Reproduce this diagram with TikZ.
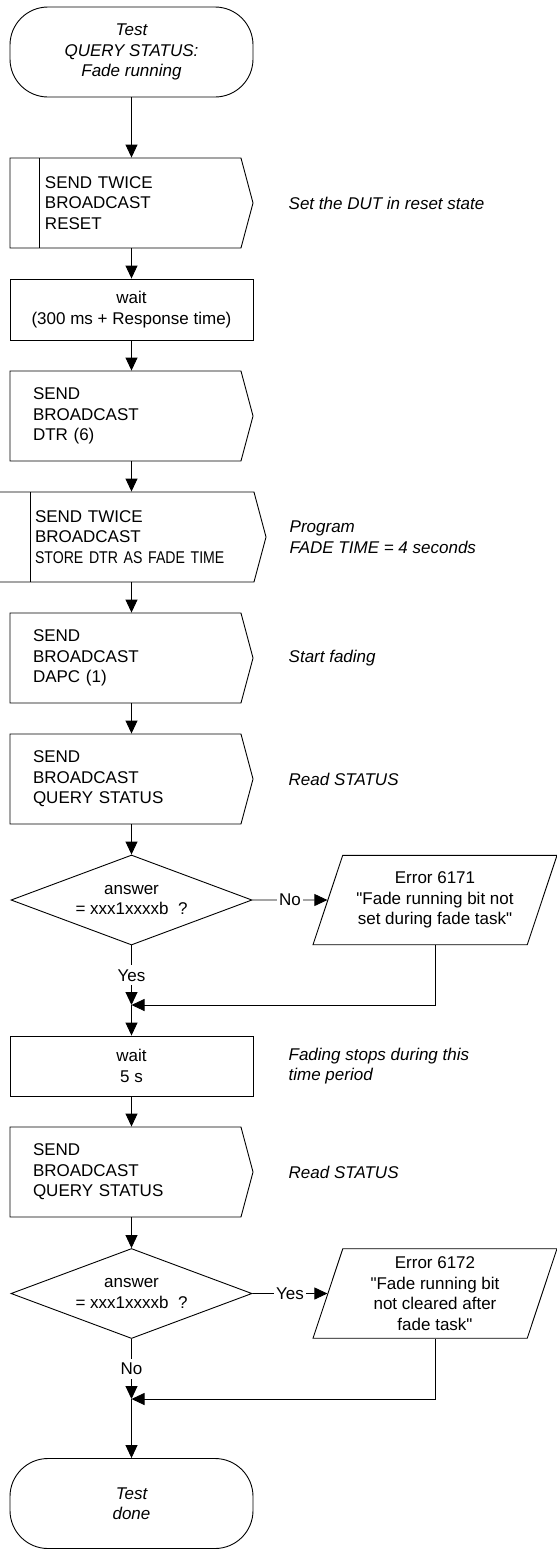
\documentclass[tikz,border=0pt]{standalone}
\usepackage{fontspec}
\setmainfont{Liberation Sans}
\newfontfamily\narrowfont{Liberation Sans}[FakeStretch=0.83]
\usepackage{tikz}
\usetikzlibrary{arrows.meta,positioning,shapes.geometric,shapes.symbols}
\tikzset{
  terminal/.style={
    rounded corners=38pt,draw=black,fill=white,
    line width=.9pt,minimum width=243pt,minimum height=90pt,
    align=center,font=\fontsize{17}{20.5}\selectfont\itshape
  },
  waitbox/.style={
    draw=black,fill=white,line width=.9pt,
    minimum width=243pt,minimum height=61pt,
    align=center,font=\fontsize{17}{20.5}\selectfont
  },
  sendbox/.style={
    shape=signal,signal to=east,signal pointer angle=150,
    draw=black,fill=white,line width=.9pt,
    minimum width=243pt,minimum height=90pt,
    text width=185pt,align=left,font=\fontsize{17}{20.5}\selectfont
  },
  twicebox/.style={
    sendbox,path picture={
      \draw[line width=.9pt] ([xshift=#1]path picture bounding box.north west)
        --([xshift=#1]path picture bounding box.south west);}
  },
  decision/.style={
    diamond,shape aspect=2.68,draw=black,fill=white,line width=.9pt,
    minimum width=241pt,minimum height=90pt,inner sep=0pt,
    align=center,font=\fontsize{17}{20.5}\selectfont
  },
  errorbox/.style={
    trapezium,trapezium left angle=71.6,trapezium right angle=108.4,
    trapezium stretches body=true,draw=black,fill=white,line width=.9pt,
    minimum width=244pt,inner ysep=#1,
    align=center,font=\fontsize{17}{20.5}\selectfont
  },
  note/.style={inner sep=0pt,align=left,font=\fontsize{17}{20.5}\selectfont\itshape},
  answer/.style={fill=white,inner xsep=2pt,inner ysep=4pt,font=\fontsize{17}{20.5}\selectfont},
  arrow/.style={-{Triangle[length=13pt,width=12pt]},draw=black,line width=.9pt}
}
\begin{document}
\begin{tikzpicture}[x=1pt,y=1pt,node distance=35pt]
\useasboundingbox (0,0) rectangle (557,-1551);
\coordinate (axis) at (131.5,0);
\node[terminal] (start) at (131.5,-52) {Test\\QUERY STATUS:\\Fade running};
\node[twicebox=29pt,text width=161pt] (reset) at (125.5,-203) {SEND TWICE\\BROADCAST\\RESET};
\node[waitbox] (wait1) at (131.5,-309.5) {wait\\(300 ms + Response time)};
\node[sendbox] (dtr) at (125.5,-416) {SEND\\BROADCAST\\DTR (6)};
\node[twicebox=32pt,minimum width=268pt,text width=182pt] (fadetime) at (126,-537) {SEND TWICE\\BROADCAST\\{\narrowfont\mbox{STORE DTR AS FADE TIME}}};
\node[sendbox] (dapc) at (125.5,-658) {SEND\\BROADCAST\\DAPC (1)};
\node[sendbox] (query1) at (125.5,-779) {SEND\\BROADCAST\\QUERY STATUS};
\node[decision] (check1) at (131.5,-900) {answer\\= xxx1xxxxb\ \ ?};
\node[errorbox=16.5pt] (error1) at ([xshift=303.5pt]check1) {Error 6171\\\textquotedbl Fade running bit not\\set during fade task\textquotedbl};
\coordinate (join1) at (131.5,-1005);
\node[waitbox,minimum height=60pt] (wait2) at (131.5,-1066) {wait\\5 s};
\node[sendbox] (query2) at (125.5,-1172) {SEND\\BROADCAST\\QUERY STATUS};
\node[decision] (check2) at (131.5,-1293.5) {answer\\= xxx1xxxxb\ \ ?};
\node[errorbox=8pt] (error2) at ([xshift=303.5pt]check2) {Error 6172\\\textquotedbl Fade running bit\\not cleared after\\fade task\textquotedbl};
\coordinate (join2) at (131.5,-1399);
\node[terminal] (done) at (131.5,-1503.5) {Test\\done};
\node[note,right=of reset] (resetnote) {Set the DUT in reset state};
\node[note,right=23pt of fadetime] (fadenote) {Program\\FADE TIME = 4 seconds};
\node[note,right=of dapc] (dapcnote) {Start fading};
\node[note,right=of query1] (query1note) {Read STATUS};
\node[note,right=of wait2] (wait2note) {Fading stops during this\\time period};
\node[note,right=of query2] (query2note) {Read STATUS};
\draw[arrow] (start)--(axis|-reset.north);
\draw[arrow] (axis|-reset.south)--(wait1);
\draw[arrow] (wait1)--(axis|-dtr.north);
\draw[arrow] (axis|-dtr.south)--(axis|-fadetime.north);
\draw[arrow] (axis|-fadetime.south)--(axis|-dapc.north);
\draw[arrow] (axis|-dapc.south)--(axis|-query1.north);
\draw[arrow] (axis|-query1.south)--(check1);
\draw[arrow] (check1.east)--node[answer]{No}(error1);
\draw[arrow] (check1)--node[answer]{Yes}(join1);
\draw[arrow] (error1)|-(join1);
\draw[arrow] (join1)--(wait2);
\draw[arrow] (wait2)--(axis|-query2.north);
\draw[arrow] (axis|-query2.south)--(check2);
\draw[arrow] (check2.east)--node[answer]{Yes}(error2);
\draw[arrow] (check2)--node[answer]{No}(join2);
\draw[arrow] (error2)|-(join2);
\draw[arrow] (join2)--(done);
\end{tikzpicture}
\end{document}
